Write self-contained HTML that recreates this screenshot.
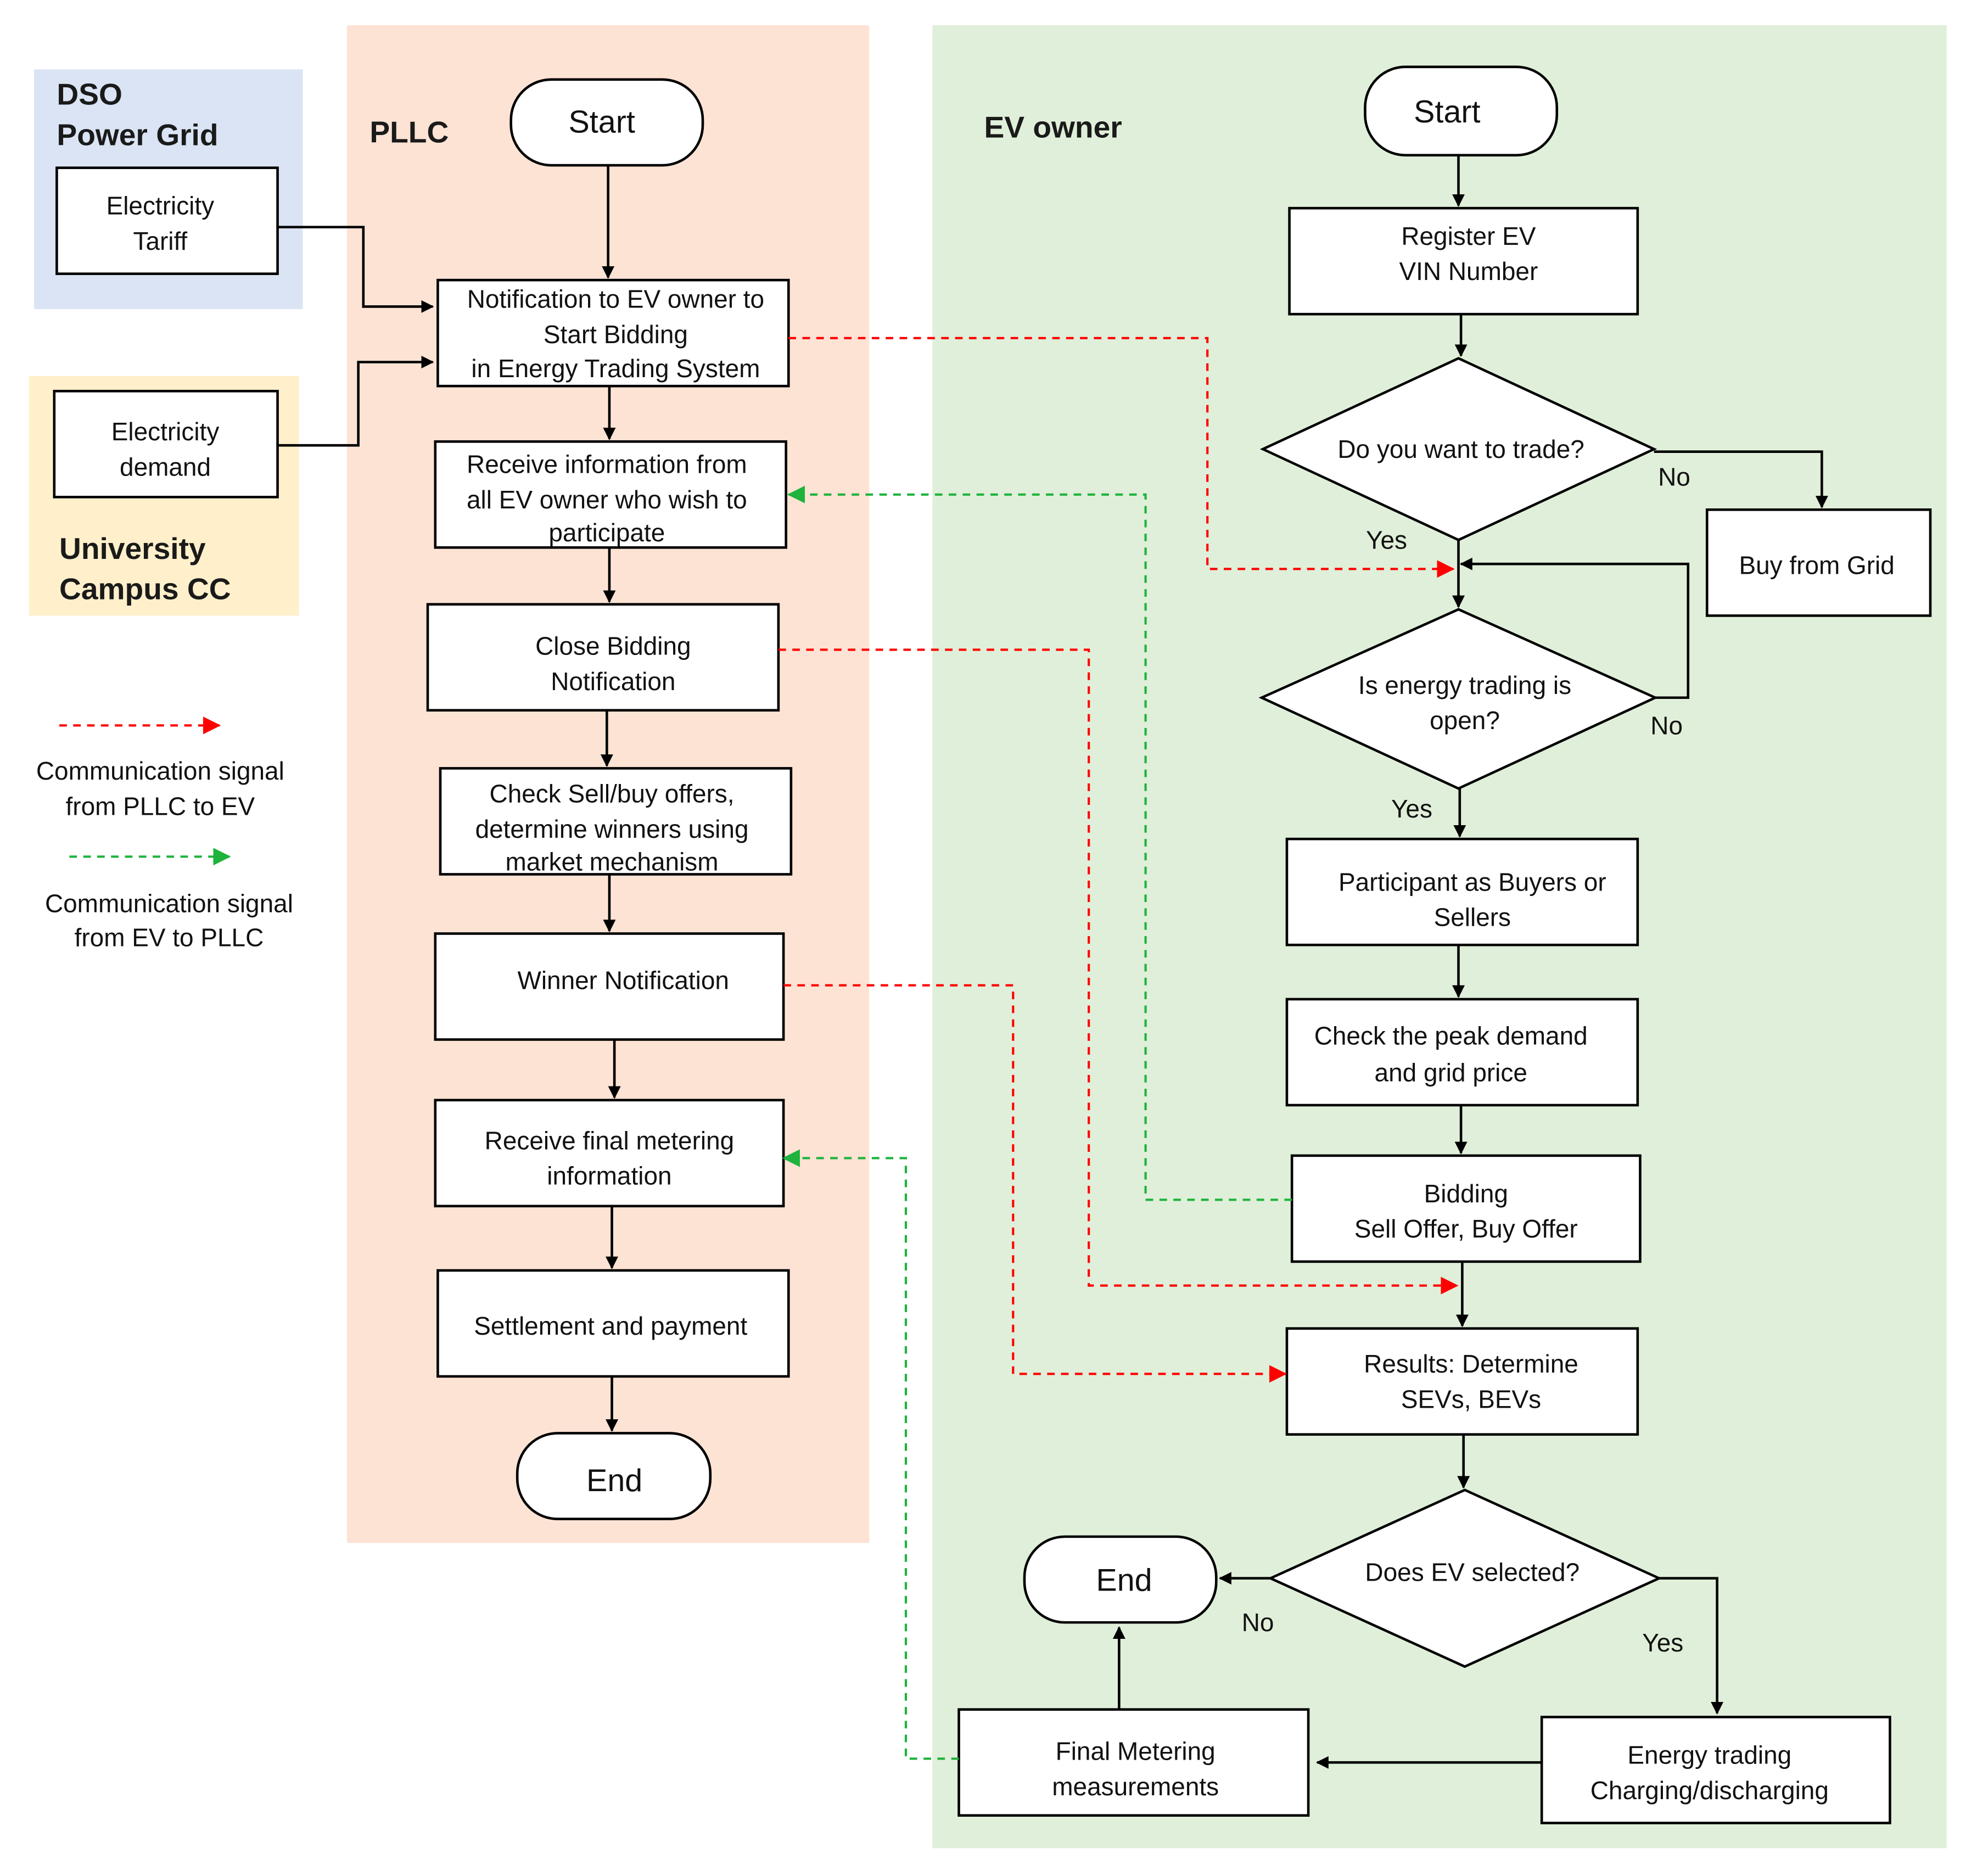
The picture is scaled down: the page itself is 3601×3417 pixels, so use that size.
<!DOCTYPE html>
<html><head><meta charset="utf-8"><style>
html,body{margin:0;padding:0;background:#fff;}
svg{display:block;}
text{font-family:"Liberation Sans",Arial,sans-serif;fill:#111;}
.t{font-size:20px;text-anchor:middle;}
.h{font-size:24px;font-weight:bold;fill:#1a1a1a;}
.b{fill:#fff;stroke:#000;stroke-width:2;}
.l{fill:none;stroke:#000;stroke-width:2;}
.r{fill:none;stroke:#f00;stroke-width:1.8;stroke-dasharray:6,5;}
.g{fill:none;stroke:#1db33c;stroke-width:1.8;stroke-dasharray:6,5;}
</style></head><body>
<svg width="3601" height="3417" viewBox="0 0 1567 1487" preserveAspectRatio="none" xmlns="http://www.w3.org/2000/svg">
<defs>
<marker id="ak" markerWidth="10" markerHeight="10" refX="9" refY="5" orient="auto" markerUnits="userSpaceOnUse"><path d="M0,0 L10,5 L0,10z" fill="#000"/></marker>
<marker id="ar" markerWidth="14" markerHeight="14" refX="13" refY="7" orient="auto" markerUnits="userSpaceOnUse"><path d="M0,0 L14,7 L0,14z" fill="#f00"/></marker>
<marker id="ag" markerWidth="14" markerHeight="14" refX="13" refY="7" orient="auto" markerUnits="userSpaceOnUse"><path d="M0,0 L14,7 L0,14z" fill="#1db33c"/></marker>
</defs>
<rect x="27" y="55" width="213" height="190" fill="#dae4f4"/>
<rect x="23" y="298" width="214" height="190" fill="#fff0cb"/>
<rect x="275" y="20" width="414" height="1203" fill="#fde3d4"/>
<rect x="739" y="20" width="804" height="1445" fill="#e0efd9"/>

<text class="h" x="45" y="83">DSO</text>
<text class="h" x="45" y="115">Power Grid</text>
<text class="h" x="293" y="113">PLLC</text>
<text class="h" x="780" y="109">EV owner</text>
<text class="h" x="47" y="443">University</text>
<text class="h" x="47" y="475">Campus CC</text>

<rect class="b" x="45" y="133" width="175" height="84"/>
<text class="t" x="127" y="170">Electricity</text><text class="t" x="127" y="198">Tariff</text>
<rect class="b" x="43" y="310" width="177" height="84"/>
<text class="t" x="131" y="349">Electricity</text><text class="t" x="131" y="377">demand</text>

<path class="l" d="M220,180 H288 V243 H343" marker-end="url(#ak)"/>
<path class="l" d="M220,353 H284 V287 H343" marker-end="url(#ak)"/>

<rect class="b" x="405" y="63" width="152" height="68" rx="32"/>
<text class="t" x="477" y="105" style="font-size:25px">Start</text>
<path class="l" d="M482,131 V220" marker-end="url(#ak)"/>
<rect class="b" x="347" y="222" width="278" height="84"/>
<text class="t" x="488" y="244">Notification to EV owner to</text>
<text class="t" x="488" y="272">Start Bidding</text>
<text class="t" x="488" y="299">in Energy Trading System</text>
<path class="l" d="M483,306 V348" marker-end="url(#ak)"/>
<rect class="b" x="345" y="350" width="278" height="84"/>
<text class="t" x="481" y="375">Receive information from</text>
<text class="t" x="481" y="403">all EV owner who wish to</text>
<text class="t" x="481" y="429">participate</text>
<path class="l" d="M483,434 V477" marker-end="url(#ak)"/>
<rect class="b" x="339" y="479" width="278" height="84"/>
<text class="t" x="486" y="519">Close Bidding</text><text class="t" x="486" y="547">Notification</text>
<path class="l" d="M481,563 V607" marker-end="url(#ak)"/>
<rect class="b" x="349" y="609" width="278" height="84"/>
<text class="t" x="485" y="636">Check Sell/buy offers,</text>
<text class="t" x="485" y="664">determine winners using</text>
<text class="t" x="485" y="690">market mechanism</text>
<path class="l" d="M483,693 V738" marker-end="url(#ak)"/>
<rect class="b" x="345" y="740" width="276" height="84"/>
<text class="t" x="494" y="784">Winner Notification</text>
<path class="l" d="M487,824 V870" marker-end="url(#ak)"/>
<rect class="b" x="345" y="872" width="276" height="84"/>
<text class="t" x="483" y="911">Receive final metering</text><text class="t" x="483" y="939">information</text>
<path class="l" d="M485,956 V1005" marker-end="url(#ak)"/>
<rect class="b" x="347" y="1007" width="278" height="84"/>
<text class="t" x="484" y="1058">Settlement and payment</text>
<path class="l" d="M485,1091 V1134" marker-end="url(#ak)"/>
<rect class="b" x="410" y="1136" width="153" height="68" rx="32"/>
<text class="t" x="487" y="1182" style="font-size:25px">End</text>

<rect class="b" x="1082" y="53" width="152" height="70" rx="32"/>
<text class="t" x="1147" y="97" style="font-size:25px">Start</text>
<path class="l" d="M1156,123 V163" marker-end="url(#ak)"/>
<rect class="b" x="1022" y="165" width="276" height="84"/>
<text class="t" x="1164" y="194">Register EV</text><text class="t" x="1164" y="222">VIN Number</text>
<path class="l" d="M1158,249 V282" marker-end="url(#ak)"/>
<polygon class="b" points="1156,284 1311,356 1156,428 1001,356"/>
<text class="t" x="1158" y="363">Do you want to trade?</text>
<path class="l" d="M1311,358 H1444 V402" marker-end="url(#ak)"/>
<rect class="b" x="1353" y="404" width="177" height="84"/>
<text class="t" x="1440" y="455">Buy from Grid</text>
<text class="t" x="1327" y="385">No</text>
<text class="t" x="1099" y="435">Yes</text>
<path class="l" d="M1156,428 V481" marker-end="url(#ak)"/>
<polygon class="b" points="1156,483 1312,553 1156,625 1000,553"/>
<text class="t" x="1161" y="550">Is energy trading is</text><text class="t" x="1161" y="578">open?</text>
<path class="l" d="M1312,553 H1338 V447 H1158" marker-end="url(#ak)"/>
<text class="t" x="1321" y="582">No</text>
<text class="t" x="1119" y="648">Yes</text>
<path class="l" d="M1157,625 V663" marker-end="url(#ak)"/>
<rect class="b" x="1020" y="665" width="278" height="84"/>
<text class="t" x="1167" y="706">Participant as Buyers or</text><text class="t" x="1167" y="734">Sellers</text>
<path class="l" d="M1156,749 V790" marker-end="url(#ak)"/>
<rect class="b" x="1020" y="792" width="278" height="84"/>
<text class="t" x="1150" y="828">Check the peak demand</text><text class="t" x="1150" y="857">and grid price</text>
<path class="l" d="M1158,876 V914" marker-end="url(#ak)"/>
<rect class="b" x="1024" y="916" width="276" height="84"/>
<text class="t" x="1162" y="953">Bidding</text><text class="t" x="1162" y="981">Sell Offer, Buy Offer</text>
<path class="l" d="M1159,1000 V1051" marker-end="url(#ak)"/>
<rect class="b" x="1020" y="1053" width="278" height="84"/>
<text class="t" x="1166" y="1088">Results: Determine</text><text class="t" x="1166" y="1116">SEVs, BEVs</text>
<path class="l" d="M1160,1137 V1179" marker-end="url(#ak)"/>
<polygon class="b" points="1161,1181 1315,1251 1161,1321 1007,1251"/>
<text class="t" x="1167" y="1253">Does EV selected?</text>
<path class="l" d="M1007,1251 H967" marker-end="url(#ak)"/>
<text class="t" x="997" y="1293">No</text>
<path class="l" d="M1315,1251 H1361 V1358" marker-end="url(#ak)"/>
<text class="t" x="1318" y="1309">Yes</text>
<rect class="b" x="812" y="1218" width="152" height="68" rx="32"/>
<text class="t" x="891" y="1261" style="font-size:25px">End</text>
<rect class="b" x="1222" y="1361" width="276" height="84"/>
<text class="t" x="1355" y="1398">Energy trading</text><text class="t" x="1355" y="1426">Charging/discharging</text>
<path class="l" d="M1222,1397 H1044" marker-end="url(#ak)"/>
<rect class="b" x="760" y="1355" width="277" height="84"/>
<text class="t" x="900" y="1395">Final Metering</text><text class="t" x="900" y="1423">measurements</text>
<path class="l" d="M887,1355 V1290" marker-end="url(#ak)"/>

<path class="r" d="M625,268 H957 V451 H1152" marker-end="url(#ar)"/>
<path class="r" d="M617,515 H863 V1019 H1155" marker-end="url(#ar)"/>
<path class="r" d="M621,781 H803 V1089 H1019" marker-end="url(#ar)"/>
<path class="g" d="M1024,951 H908 V392 H625" marker-end="url(#ag)"/>
<path class="g" d="M760,1394 H718 V918 H621" marker-end="url(#ag)"/>

<path class="r" d="M47,575 H174" marker-end="url(#ar)"/>
<text class="t" x="127" y="618">Communication signal</text><text class="t" x="127" y="646">from PLLC to EV</text>
<path class="g" d="M55,679 H182" marker-end="url(#ag)"/>
<text class="t" x="134" y="723">Communication signal</text><text class="t" x="134" y="750">from EV to PLLC</text>
</svg>
</body></html>
